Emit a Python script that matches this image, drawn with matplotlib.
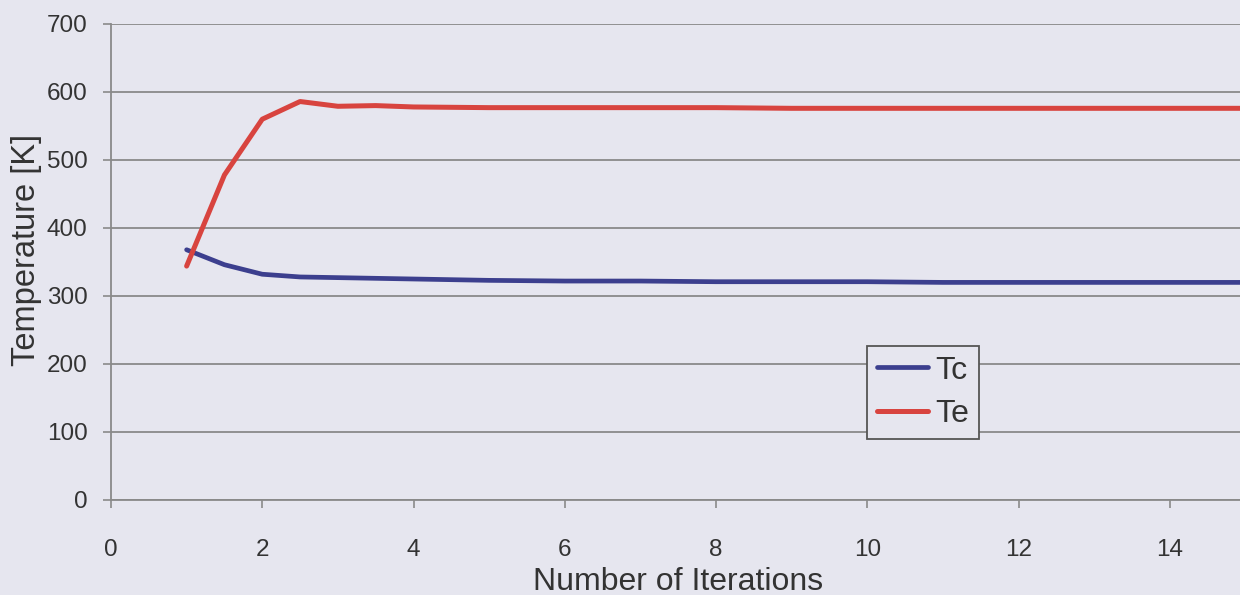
import matplotlib
matplotlib.use("Agg")
import matplotlib.pyplot as plt

plt.rcParams['font.family'] = ['Liberation Sans', 'DejaVu Sans']

# Data
iterations = [1, 1.5, 2, 2.5, 3, 3.5, 4, 5, 6, 7, 8, 9, 10, 11, 12, 13, 14, 15, 16]
tc_values = [368, 346, 332, 328, 327, 326, 325, 323, 322, 322, 321, 321, 321, 320, 320, 320, 320, 320, 320]
te_values = [344, 478, 560, 586, 579, 580, 578, 577, 577, 577, 577, 576, 576, 576, 576, 576, 576, 576, 576]
series_labels = ["Tc", "Te"]
x_ticks = [0, 2, 4, 6, 8, 10, 12, 14]
y_ticks = [0, 100, 200, 300, 400, 500, 600, 700]

BG = "#e6e6ef"
TEXT = "#333333"
GRID = "#8a8a8a"

W, H = 1240, 595
fig = plt.figure(figsize=(W / 100, H / 100), dpi=100, facecolor=BG)

x0_px, x16_px = 111, 1321
y0_px, y700_px = 500, 24
ax = fig.add_axes([x0_px / W, (H - y0_px) / H, (x16_px - x0_px) / W, (y0_px - y700_px) / H])
ax.set_facecolor(BG)

ax.plot(iterations, tc_values, color="#3c3f8e", lw=3.4, label=series_labels[0], solid_capstyle="round")
ax.plot(iterations, te_values, color="#d8443f", lw=3.6, label=series_labels[1], solid_capstyle="round")

ax.set_xlim(0, 16)
ax.set_ylim(0, 700)
ax.set_xticks(x_ticks)
ax.set_yticks(y_ticks)
ax.yaxis.grid(True, color=GRID, lw=1.3)
ax.set_axisbelow(True)

for s in ["top", "right"]:
    ax.spines[s].set_visible(False)
for s in ["left", "bottom"]:
    ax.spines[s].set_color(GRID)
    ax.spines[s].set_linewidth(1.3)

ax.tick_params(axis="both", direction="out", length=6, width=1.2, color=GRID,
               labelsize=17.5, labelcolor=TEXT)
ax.tick_params(axis="y", pad=11)
ax.tick_params(axis="x", pad=22)

ax.set_xlabel("Number of Iterations", fontsize=23, color=TEXT)
fig.text(27 / W, 1 - 250 / H, "Temperature [K]", rotation=90, fontsize=23.5, color=TEXT,
         ha="center", va="center")
ax.xaxis.set_label_coords((678 - x0_px) / (x16_px - x0_px), -(567 - y0_px) / (y0_px - y700_px))

leg = fig.legend(loc="upper left", bbox_to_anchor=(867 / W, 1 - 346 / H), fontsize=23,
                 frameon=True, fancybox=False, handlelength=1.6, handletextpad=0.25,
                 labelspacing=0.42, borderpad=0.3, borderaxespad=0, labelcolor=TEXT)
leg.get_frame().set_facecolor(BG)
leg.get_frame().set_edgecolor("#555555")
leg.get_frame().set_linewidth(1.3)
leg.get_frame().set_alpha(1)

fig.savefig("out.png", dpi=100, facecolor=BG)
